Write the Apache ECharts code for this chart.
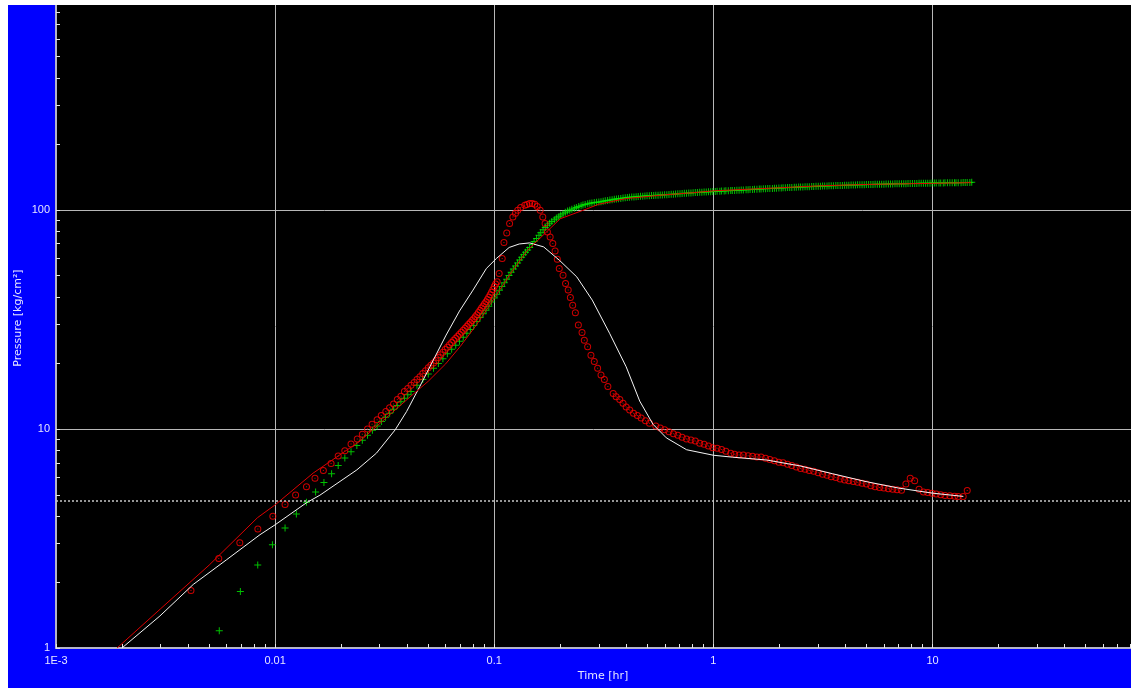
<!DOCTYPE html>
<html><head><meta charset="utf-8">
<script src="https://cdn.jsdelivr.net/npm/echarts@6/dist/echarts.min.js"></script>
<style>
html,body{margin:0;padding:0;background:#fff;width:1134px;height:688px;overflow:hidden}
#c{position:absolute;left:8px;top:5px;width:1123px;height:683px;}
</style></head><body><div id="c"></div>
<script>
// ---- axis ticks / labels ----
const xTickValues = [0.001, 0.01, 0.1, 1, 10];
const xTickLabels = ['1E-3', '0.01', '0.1', '1', '10'];
const yTickValues = [1, 10, 100];
const yTickLabels = ['1', '10', '100'];
const xMinorTicks = [0.001,0.002,0.003,0.004,0.005,0.006,0.007,0.008,0.009,
  0.01,0.02,0.03,0.04,0.05,0.06,0.07,0.08,0.09,
  0.1,0.2,0.3,0.4,0.5,0.6,0.7,0.8,0.9,
  1,2,3,4,5,6,7,8,9,10,20,30,40,50,60,70,80];
const yMinorTicks = [1,2,3,4,5,6,7,8,9,10,20,30,40,50,60,70,80,90,100,200,300,400,500,600,700,800];
const xRange = [0.001, 80.5];
const yRange = [1, 860];
const refLevel = 4.7;

// ---- pressure data (green crosses) [time hr, pressure] ----
const pressureData = [
[0.00556,1.20],[0.00694,1.81],[0.00833,2.39],[0.00972,2.96],[0.0111,3.53],[0.0125,4.09],[0.0139,4.62],
[0.0153,5.15],[0.0167,5.69],[0.0181,6.24],[0.0194,6.80],[0.0208,7.36],[0.0222,7.86],[0.0236,8.39],
[0.025,8.88],[0.0264,9.36],[0.0278,9.85],[0.0292,10.3],[0.0306,10.8],[0.0319,11.3],[0.0333,11.8],
[0.0347,12.3],[0.0361,12.8],[0.0375,13.3],[0.0389,13.8],[0.0403,14.3],[0.0417,14.8],[0.0444,15.8],
[0.0472,16.8],[0.05,17.8],[0.0528,18.9],[0.0556,19.9],[0.0583,20.9],[0.0611,22.0],[0.0639,23.1],
[0.0667,24.1],[0.0694,25.1],[0.0722,26.2],[0.075,27.3],[0.0778,28.4],[0.0806,29.6],[0.0833,30.9],
[0.0861,32.2],[0.0889,33.5],[0.0917,34.8],[0.0944,36.3],[0.0972,37.9],[0.1,39.6],[0.1028,41.2],
[0.1056,42.9],[0.1083,44.6],[0.1111,46.4],[0.1139,48.2],[0.1167,50.1],[0.1194,51.8],[0.1222,53.6],
[0.125,55.4],[0.1278,57.2],[0.1306,59.0],[0.1333,60.7],[0.1361,62.4],[0.1389,64.0],[0.142,65.6],
[0.145,67.3],[0.149,69.5],[0.152,71.6],[0.156,74.0],[0.160,76.6],[0.163,78.6],[0.167,81.0],
[0.171,83.0],[0.175,85.0],[0.179,86.8],[0.183,88.3],[0.188,90.0],[0.192,91.6],[0.197,93.0],
[0.201,94.6],[0.206,96.0],[0.211,97.3],[0.216,98.6],[0.221,99.6],[0.226,100.6],[0.232,101.6],
[0.237,102.5],[0.243,103.4],[0.249,104.2],[0.254,105.0],[0.260,105.7],[0.267,106.4],[0.273,107.0],
[0.279,107.5],[0.286,108.0],[0.293,108.3],
[0.300,108.6],[0.307,108.9],[0.314,109.3],[0.321,109.8],[0.329,110.3],[0.337,110.8],[0.345,111.2],
[0.353,111.6],[0.361,112.0],[0.369,112.4],[0.378,112.7],[0.387,113.1],[0.396,113.4],[0.405,113.7],
[0.414,114.0],[0.424,114.3],[0.434,114.5],[0.444,114.8],[0.454,115.0],[0.465,115.2],[0.476,115.4],
[0.487,115.6],[0.498,115.8],[0.510,116.0],[0.522,116.1],[0.534,116.3],[0.546,116.4],[0.559,116.6],
[0.572,116.7],[0.585,116.9],[0.599,117.0],[0.613,117.2],[0.627,117.4],[0.642,117.6],[0.657,117.8],
[0.672,118.0],[0.688,118.2],[0.704,118.4],[0.720,118.6],[0.737,118.8],[0.754,119.0],[0.772,119.2],
[0.790,119.4],[0.808,119.6],[0.827,119.8],[0.846,119.9],[0.866,120.1],[0.886,120.3],[0.907,120.5],
[0.928,120.6],[0.950,120.8],[0.972,120.9],[0.994,121.1],[1.02,121.2],[1.04,121.4],[1.07,121.6],
[1.09,121.7],[1.12,121.9],[1.14,122.0],[1.17,122.2],[1.20,122.3],[1.22,122.5],[1.25,122.6],
[1.28,122.8],[1.31,122.9],[1.34,123.1],[1.37,123.2],[1.41,123.4],[1.44,123.5],[1.47,123.7],
[1.51,123.8],[1.54,124.0],[1.58,124.1],[1.62,124.3],[1.65,124.4],[1.69,124.6],[1.73,124.7],
[1.77,124.9],[1.81,125.0],[1.86,125.2],[1.90,125.3],[1.94,125.5],[1.99,125.6],[2.04,125.8],
[2.08,125.9],[2.13,126.1],[2.18,126.2],[2.23,126.4],[2.28,126.5],[2.34,126.6],[2.39,126.7],
[2.45,126.9],[2.50,127.0],[2.56,127.1],[2.62,127.2],[2.68,127.4],[2.74,127.5],[2.81,127.6],
[2.87,127.7],[2.94,127.9],[3.01,128.0],[3.08,128.1],[3.15,128.2],[3.22,128.4],[3.30,128.5],
[3.37,128.6],[3.45,128.7],[3.53,128.8],[3.62,128.9],[3.70,129.0],[3.79,129.1],[3.88,129.2],
[3.97,129.3],[4.06,129.4],[4.15,129.5],[4.25,129.6],[4.35,129.7],[4.45,129.8],[4.55,129.9],
[4.66,130.0],[4.77,130.1],[4.88,130.2],[4.99,130.3],[5.11,130.3],[5.23,130.4],[5.35,130.5],
[5.47,130.6],[5.60,130.7],[5.73,130.8],[5.86,130.8],[6.00,130.9],[6.14,131.0],[6.29,131.1],
[6.43,131.1],[6.58,131.2],[6.74,131.3],[6.89,131.4],[7.05,131.4],[7.22,131.5],[7.39,131.5],
[7.56,131.6],[7.73,131.7],[7.91,131.8],[8.10,131.8],[8.29,131.9],[8.48,131.9],[8.68,132.0],
[8.88,132.0],[9.09,132.1],[9.30,132.2],[9.51,132.2],[9.74,132.3],[9.96,132.4],[10.2,132.4],
[10.4,132.5],[10.7,132.5],[10.9,132.6],[11.2,132.6],[11.4,132.7],[11.7,132.7],[12.0,132.8],
[12.3,132.8],[12.6,132.9],[12.8,132.9],[13.1,133.0],[13.5,133.0],[13.8,133.1],[14.1,133.1],
[14.4,133.2],[14.8,133.3],[15.1,133.4]
];

// ---- derivative data (red circles) [time hr, value] ----
const derivativeData = [
[0.00413,1.83],[0.00553,2.56],[0.0069,3.02],[0.00834,3.49],[0.00976,3.99],[0.0111,4.52],[0.0124,4.99],
[0.0139,5.44],[0.0152,5.96],[0.0166,6.46],[0.018,6.95],[0.0194,7.53],[0.0208,7.94],[0.0222,8.52],
[0.0237,8.98],[0.025,9.46],[0.0264,10.0],[0.0277,10.5],[0.0292,11.0],[0.0305,11.5],[0.032,12.0],
[0.0333,12.5],[0.0347,13.0],[0.0361,13.6],[0.0375,14.1],[0.0389,14.8],[0.0403,15.3],[0.0417,15.8],
[0.0431,16.3],[0.0444,16.8],[0.0458,17.3],[0.0472,17.9],[0.0486,18.4],[0.05,19.0],[0.0514,19.5],
[0.0528,20.0],[0.0542,20.5],[0.0556,21.2],[0.0569,21.8],[0.0583,22.4],[0.0597,23.0],[0.0611,23.6],
[0.0625,24.2],[0.0639,24.8],[0.0653,25.4],[0.0667,25.9],[0.0681,26.5],[0.0694,27.0],[0.0708,27.6],
[0.0722,28.2],[0.0736,28.8],[0.075,29.4],[0.0764,30.0],[0.0778,30.6],[0.0792,31.2],[0.0806,31.8],
[0.0819,32.5],[0.0833,33.2],[0.0847,34.0],[0.0861,34.8],[0.0875,35.6],[0.0889,36.4],[0.0903,37.2],
[0.0917,38.0],[0.0931,38.9],[0.0944,39.9],[0.0958,40.9],[0.0972,42.0],[0.0986,43.3],[0.1,44.6],
[0.1014,45.8],[0.1031,46.9],[0.1053,51.2],[0.1087,59.9],[0.1107,70.9],[0.114,78.4],[0.1175,86.5],
[0.1216,92.7],[0.125,96.5],[0.128,99.5],[0.132,102.5],[0.1378,104.8],[0.141,105.8],[0.145,106.7],
[0.149,106.8],[0.153,106.0],[0.157,103.5],[0.162,99.5],[0.1665,92.7],[0.1706,86.5],[0.1748,79.2],
[0.1799,75.2],[0.185,70.2],[0.1895,64.9],[0.194,59.5],[0.198,54.0],[0.206,50.3],[0.2115,46.1],
[0.2175,43.0],[0.2225,39.8],[0.228,36.7],[0.2345,33.9],[0.242,29.8],[0.2515,27.5],[0.2576,25.4],
[0.2668,23.7],[0.2762,21.7],[0.286,20.3],[0.2963,18.9],[0.307,17.6],[0.318,16.8],[0.33,15.6],
[0.349,14.5],[0.36,14.0],[0.374,13.6],[0.387,13.1],[0.40,12.6],[0.415,12.2],[0.432,11.8],[0.45,11.5],
[0.468,11.2],[0.49,10.9],[0.511,10.6],
[0.546,10.3],[0.572,10.1],[0.599,9.9],[0.627,9.7],[0.657,9.5],[0.688,9.35],[0.720,9.15],[0.754,9.0],
[0.790,8.9],[0.827,8.8],[0.866,8.6],[0.907,8.5],[0.950,8.35],[0.994,8.2],[1.04,8.15],[1.09,8.05],
[1.14,7.9],[1.20,7.75],[1.25,7.65],[1.31,7.6],[1.37,7.6],[1.44,7.55],[1.51,7.5],[1.58,7.45],
[1.65,7.45],[1.73,7.35],[1.81,7.25],[1.90,7.15],[1.99,7.05],[2.08,7.0],[2.18,6.9],[2.28,6.8],
[2.39,6.7],[2.50,6.6],[2.62,6.55],[2.74,6.45],[2.87,6.4],[3.01,6.3],[3.15,6.2],[3.30,6.15],
[3.45,6.05],[3.62,6.0],[3.79,5.9],[3.97,5.85],[4.15,5.8],[4.35,5.75],[4.55,5.7],[4.77,5.65],
[4.99,5.6],[5.23,5.5],[5.47,5.45],[5.73,5.4],[6.00,5.37],[6.29,5.33],[6.58,5.3],[6.89,5.27],
[7.22,5.25],[7.56,5.6],[7.91,5.95],[8.29,5.8],[8.68,5.3],[9.09,5.15],[9.51,5.12],[9.96,5.08],
[10.4,5.05],[10.9,5.0],[11.4,4.97],[12.0,4.95],[12.6,4.93],[13.1,4.92],[13.8,4.92],[14.4,5.24]
];

// ---- model pressure (red line) ----
const modelPressure = [
[0.0019,1],[0.003,1.51],[0.005,2.39],[0.0083,3.93],[0.01,4.5],[0.0149,6.28],[0.0244,8.8],[0.033,11.5],
[0.0413,14.0],[0.05,16.5],[0.06,19.8],[0.07,23.8],[0.0833,30],[0.1,39.5],[0.12,52],[0.141,65],
[0.175,80],[0.2,91],[0.265,101],[0.3,106],[0.4,112.5],[0.6,117],[0.8,119.5],[1,122],[2,126],
[3,128.5],[5,130.5],[10,132],[15,133]
];

// ---- model derivative (white line) ----
const modelDerivative = [
[0.002,1.0],[0.00298,1.40],[0.00423,1.95],[0.00601,2.53],[0.00853,3.29],[0.01,3.65],[0.0139,4.6],
[0.016,4.98],[0.0236,6.5],[0.029,7.75],[0.0353,9.9],[0.0398,12.0],[0.0457,15.6],[0.0527,20.6],
[0.0603,26.8],[0.0694,34.5],[0.08,43.0],[0.0921,54.0],[0.1024,60.0],[0.117,67.3],[0.13,69.8],
[0.145,70.6],[0.168,67.7],[0.198,58.9],[0.238,49.4],[0.28,38.7],[0.336,27.3],[0.40,19.2],
[0.461,13.4],[0.53,10.5],[0.61,9.1],[0.755,8.03],[1.0,7.58],[1.22,7.43],[1.75,7.21],[2.48,6.78],
[3.5,6.24],[4.92,5.76],[7.0,5.37],[10,5.09],[13.8,4.92]
];

function labelOf(vals, labels, v) {
  for (let i = 0; i < vals.length; i++) {
    if (Math.abs(Math.log10(v) - Math.log10(vals[i])) < 1e-6) return labels[i];
  }
  return '';
}
const txtColor = '#e6e6ff';
const font = 'Liberation Sans';
const gridColor = '#b8b8b8';
const axisColor = '#b4b4c8';
// ring with a centre dot, as drawn by the original software
const ringSymbol = 'path://M7,3.5A3.5,3.5,0,1,0,0,3.5A3.5,3.5,0,1,0,7,3.5ZM6,3.5A2.5,2.5,0,1,1,1,3.5A2.5,2.5,0,1,1,6,3.5ZM3,3h1v1h-1z';

const chart = echarts.init(document.getElementById('c'), null, {renderer: 'canvas'});
chart.setOption({
  backgroundColor: '#0000ff',
  animation: false,
  grid: {left: 48, right: 0, top: 0, bottom: 40, show: true, backgroundColor: '#000000', borderWidth: 0},
  xAxis: [
    {type: 'log', logBase: 10, min: xRange[0], max: xRange[1], position: 'bottom',
     axisLine: {show: true, onZero: false, lineStyle: {color: axisColor, width: 2}},
     axisTick: {show: true, inside: true, length: 4, customValues: xMinorTicks, lineStyle: {color: '#e6e6e6', width: 1}},
     axisLabel: {show: true, customValues: xTickValues, formatter: v => labelOf(xTickValues, xTickLabels, v),
       color: txtColor, fontFamily: font, fontSize: 11, margin: 7},
     splitLine: {show: false}, minorTick: {show: false}, minorSplitLine: {show: false}},
    {type: 'log', logBase: 10, min: xRange[0], max: xRange[1], position: 'top',
     axisLine: {show: false}, axisLabel: {show: false},
     axisTick: {show: false, customValues: xTickValues.slice(1)},
     splitLine: {show: true, lineStyle: {color: gridColor, width: 1}}}
  ],
  yAxis: [
    {type: 'log', logBase: 10, min: yRange[0], max: yRange[1], position: 'left',
     axisLine: {show: true, onZero: false, lineStyle: {color: axisColor, width: 2}},
     axisTick: {show: true, inside: true, length: 4, customValues: yMinorTicks, lineStyle: {color: '#e6e6e6', width: 1}},
     axisLabel: {show: true, customValues: yTickValues, formatter: v => labelOf(yTickValues, yTickLabels, v),
       color: txtColor, fontFamily: font, fontSize: 11, margin: 6},
     splitLine: {show: false}},
    {type: 'log', logBase: 10, min: yRange[0], max: yRange[1], position: 'right',
     axisLine: {show: false}, axisLabel: {show: false},
     axisTick: {show: false, customValues: yTickValues.slice(1)},
     splitLine: {show: true, lineStyle: {color: gridColor, width: 1}}}
  ],
  graphic: [
    {type: 'text', x: 595, y: 671, silent: true,
     style: {text: 'Time [hr]', fill: txtColor, font: '11px "DejaVu Sans"', align: 'center', verticalAlign: 'middle'}},
    {type: 'text', x: 10, y: 313, rotation: Math.PI / 2, silent: true,
     style: {text: 'Pressure [kg/cm²]', fill: txtColor, font: '11px "DejaVu Sans"', align: 'center', verticalAlign: 'middle'}}
  ],
  series: [
    {type: 'scatter', name: 'Pressure', data: pressureData, silent: true,
     symbol: 'path://M3,0h1v3h3v1h-3v3h-1v-3h-3v-1h3z', symbolSize: 7,
     itemStyle: {color: '#00f000'}},
    {type: 'scatter', name: 'Derivative', data: derivativeData, silent: true,
     symbol: ringSymbol, symbolSize: 7,
     itemStyle: {color: '#ff0000'}},
    {type: 'line', name: 'Model derivative', data: modelDerivative, showSymbol: false, silent: true,
     lineStyle: {color: '#f4f4f4', width: 1}},
    {type: 'line', name: 'Model pressure', data: modelPressure, showSymbol: false, silent: true,
     lineStyle: {color: '#dd0000', width: 1},
     markLine: {silent: true, symbol: 'none', label: {show: false},
       lineStyle: {color: '#c8c8c8', type: [2, 2], width: 1.5},
       data: [{yAxis: refLevel}]}}
  ]
});
</script></body></html>
